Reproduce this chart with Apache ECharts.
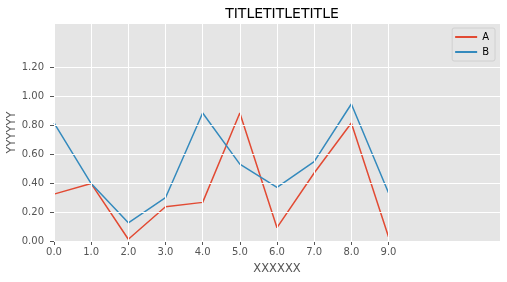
<!DOCTYPE html>
<html>
<head>
<meta charset="utf-8">
<script src="https://cdn.jsdelivr.net/npm/echarts@6/dist/echarts.min.js"></script>
<style>
html,body{margin:0;padding:0;background:#fff;}
#chart{width:507px;height:282px;}
</style>
</head>
<body>
<div id="chart"></div>
<script>
const xValues = [0, 1, 2, 3, 4, 5, 6, 7, 8, 9];
const seriesA = [0.324, 0.397, 0.012, 0.237, 0.267, 0.885, 0.092, 0.47, 0.816, 0.03];
const seriesB = [0.816, 0.397, 0.126, 0.299, 0.885, 0.531, 0.370, 0.549, 0.947, 0.333];
const xTicks = [0, 1, 2, 3, 4, 5, 6, 7, 8, 9];
const yTicks = [0, 0.2, 0.4, 0.6, 0.8, 1.0, 1.2];
const titleText = 'TITLETITLETITLE';
const xName = 'XXXXXX';
const yName = 'YYYYYY';

const font = 'DejaVu Sans';
const chart = echarts.init(document.getElementById('chart'), null, {renderer: 'canvas'});

const gridLines = xTicks.map(v => ({xAxis: v})).concat(yTicks.map(v => ({yAxis: v})));

chart.setOption({
  animation: false,
  backgroundColor: '#ffffff',
  title: {
    text: titleText,
    left: 277, top: 2, textAlign: 'center',
    textStyle: {fontFamily: font, fontSize: 14, fontWeight: 'normal', color: '#000'}
  },
  legend: {
    data: ['A', 'B'],
    orient: 'vertical',
    right: 12, top: 28,
    icon: 'rect', itemWidth: 22, itemHeight: 2, itemGap: 3,
    padding: [3, 6, 3, 3],
    backgroundColor: '#E5E5E5',
    borderColor: '#D0D0D0', borderWidth: 1, borderRadius: 2,
    textStyle: {fontFamily: font, fontSize: 10, lineHeight: 12, color: '#000'}
  },
  grid: {
    left: 54, right: 7, top: 24, bottom: 41,
    outerBoundsMode: 'none', containLabel: false,
    show: true, backgroundColor: '#E5E5E5', borderWidth: 0
  },
  xAxis: {
    type: 'value', min: 0, max: 12, interval: 1,
    name: xName, nameLocation: 'middle', nameGap: 22, nameMoveOverlap: false,
    nameTextStyle: {fontFamily: font, fontSize: 11.5, color: '#555555'},
    axisLine: {show: false},
    axisTick: {show: true, length: 4, inside: false, lineStyle: {color: '#555555'}, customValues: xTicks},
    axisLabel: {fontFamily: font, fontSize: 10, color: '#555555', margin: 6,
      customValues: xTicks, formatter: v => v.toFixed(1)},
    splitLine: {show: false}
  },
  yAxis: {
    type: 'value', min: 0, max: 1.5, interval: 0.1,
    name: yName, nameLocation: 'middle', nameGap: 36, nameMoveOverlap: false,
    nameTextStyle: {fontFamily: font, fontSize: 11.5, color: '#555555'},
    axisLine: {show: false},
    axisTick: {show: true, length: 4, inside: false, lineStyle: {color: '#555555'}, customValues: yTicks},
    axisLabel: {fontFamily: font, fontSize: 10, color: '#555555', margin: 10,
      customValues: yTicks, formatter: v => v.toFixed(2)},
    splitLine: {show: false}
  },
  series: [
    {
      name: '__grid', type: 'line', data: [], z: 1, silent: true,
      markLine: {
        silent: true, symbol: ['none', 'none'], animation: false,
        label: {show: false},
        lineStyle: {color: '#ffffff', width: 1, type: 'solid'},
        emphasis: {disabled: true},
        data: gridLines
      }
    },
    {
      name: 'A', type: 'line', z: 3,
      data: xValues.map((x, i) => [x, seriesA[i]]),
      showSymbol: false, symbol: 'none',
      lineStyle: {color: '#E24A33', width: 1.5},
      itemStyle: {color: '#E24A33'}
    },
    {
      name: 'B', type: 'line', z: 3,
      data: xValues.map((x, i) => [x, seriesB[i]]),
      showSymbol: false, symbol: 'none',
      lineStyle: {color: '#348ABD', width: 1.5},
      itemStyle: {color: '#348ABD'}
    }
  ]
});
</script>
</body>
</html>
